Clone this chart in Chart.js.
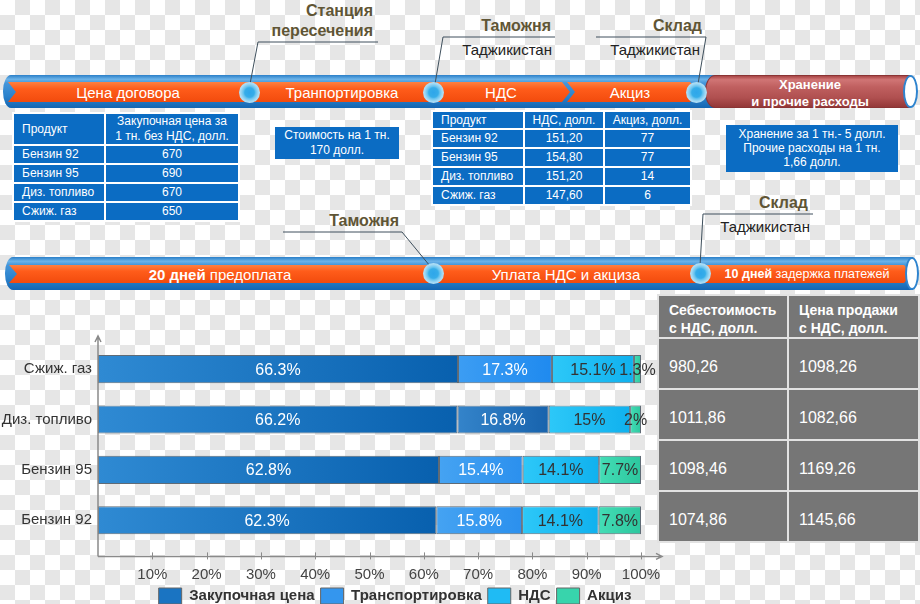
<!DOCTYPE html>
<html><head><meta charset="utf-8">
<script src="https://cdn.jsdelivr.net/npm/chart.js@4.4.1/dist/chart.umd.min.js"></script>
<style>
html,body{margin:0;padding:0;width:920px;height:604px;overflow:hidden;}
body{position:relative;font-family:"Liberation Sans",Arial,sans-serif;background:repeating-conic-gradient(#e6e6e6 0% 25%,#ffffff 0% 50%) 0 0/30px 30px;}
.pipe{position:absolute;height:33px;border-radius:8px 0 0 8px/16px 0 0 16px;background:linear-gradient(to bottom,#2a7fc8 0%,#6cb3e8 13%,#4496da 24%,#2b82cc 65%,#1466b2 100%);}
.band{position:absolute;background:linear-gradient(to bottom,#ff8040 0%,#ff5c1a 35%,#f24b0d 100%);}
.node{position:absolute;width:21px;height:21px;margin:-10.5px 0 0 -10.5px;border-radius:50%;background:radial-gradient(circle,#2ea6ea 0,#36ade9 32%,#66c3ef 42%,#a3d9f4 60%,#b8e2f6 74%,#5aaee0 100%);z-index:3;}
.title{position:absolute;font-weight:bold;font-size:16px;line-height:20px;color:#5f5535;text-align:right;white-space:nowrap;}
.sub{position:absolute;font-size:15px;line-height:18px;color:#222;text-align:right;white-space:nowrap;}
.btext{position:absolute;color:#fff;text-align:center;white-space:nowrap;z-index:2;}
table.t{border-collapse:separate;border-spacing:2px;background:#fff;position:absolute;}
table.t td{background:#0b6cc3;color:#fff;font-size:12px;padding:0;line-height:15px;}
table.g{border-collapse:separate;border-spacing:2px;background:#e2e2e2;position:absolute;z-index:4;}
table.g td{background:#767676;color:#fff;padding:0 0 0 10px;box-sizing:border-box;}
.cap{position:absolute;background:#fff;border:2px solid #2e84cf;border-radius:50%;box-sizing:border-box;}
.box{position:absolute;background:#0b6cc3;color:#fff;font-size:12px;text-align:center;box-sizing:border-box;}
svg{position:absolute;left:0;top:0;}
</style></head>
<body>
<!-- pipe 1 -->
<div class="pipe" style="left:3px;top:75px;width:712px;"></div>
<div id="bands1"></div>
<div style="position:absolute;left:705px;top:75px;width:205px;height:33px;box-sizing:border-box;border:1px solid #8a3434;border-radius:10px 0 0 10px/16px 0 0 16px;background:linear-gradient(to bottom,#a94646 0%,#d07575 12%,#c06060 35%,#b05050 70%,#943838 100%);"></div>
<div class="cap" style="left:903px;top:75px;width:15px;height:33px;"></div>
<div class="btext" style="left:730px;width:160px;top:76px;font-size:13px;font-weight:bold;line-height:17px;">Хранение<br>и прочие расходы</div>

<!-- pipe 2 -->
<div class="pipe" style="left:5px;top:257px;width:908px;"></div>
<div id="bands2"></div>
<div class="cap" style="left:905px;top:257px;width:14px;height:33px;"></div>

<svg width="920" height="604" viewBox="0 0 920 604">
<g fill="none" stroke="#3e4f5c" stroke-width="1">
<polyline points="378,42 258,42 250,84"/>
<polyline points="555,37 443,37 435,84"/>
<polyline points="596,37 706,37 698,84"/>
<polyline points="283,232 402,232 430,266"/>
<polyline points="813,214 703,214 700,266"/>
</g></svg>

<div class="node" style="left:249px;top:92px;"></div>
<div class="node" style="left:433px;top:92px;"></div>
<div class="node" style="left:696px;top:92px;"></div>
<div class="node" style="left:433px;top:273px;"></div>
<div class="node" style="left:700px;top:273px;"></div>

<div class="title" style="right:547px;top:1px;">Станция<br>пересечения</div>
<div class="title" style="right:369px;top:16px;">Таможня</div>
<div class="sub" style="right:368px;top:41px;">Таджикистан</div>
<div class="title" style="right:218px;top:16px;">Склад</div>
<div class="sub" style="right:220px;top:41px;">Таджикистан</div>
<div class="title" style="right:521px;top:211px;">Таможня</div>
<div class="title" style="right:112px;top:193px;">Склад</div>
<div class="sub" style="right:110px;top:218px;">Таджикистан</div>

<div class="box" style="left:275px;top:127px;width:124px;height:32px;line-height:15px;padding-top:1px;">Стоимость на 1 тн.<br>170 долл.</div>
<div class="box" style="left:726px;top:125px;width:172px;height:47px;line-height:14px;padding-top:2px;">Хранение за 1 тн.- 5 долл.<br>Прочие расходы на 1 тн.<br>1,66 долл.</div>

<table class="t" id="t1" style="left:12px;top:112px;"></table>
<table class="t" id="t2" style="left:431px;top:110px;"></table>
<table class="g" id="t3" style="left:657px;top:294px;"></table>

<canvas id="c" width="790" height="289" style="position:absolute;left:0;top:325px;width:790px;height:289px;z-index:1;"></canvas>

<script>
// ---- data ----
const categories = ['Сжиж. газ', 'Диз. топливо', 'Бензин 95', 'Бензин 92'];
const seriesNames = ['Закупочная цена', 'Транспортировка', 'НДС', 'Акциз'];
const purchaseShare = [66.3, 66.2, 62.8, 62.3];
const transportShare = [17.3, 16.8, 15.4, 15.8];
const vatShare = [15.1, 15, 14.1, 14.1];
const exciseShare = [1.3, 2, 7.7, 7.8];
const xTickValues = [10, 20, 30, 40, 50, 60, 70, 80, 90, 100];

const tableProducts = ['Бензин 92', 'Бензин 95', 'Диз. топливо', 'Сжиж. газ'];
const purchasePriceUsd = ['670', '690', '670', '650'];
const vatUsd = ['151,20', '154,80', '151,20', '147,60'];
const exciseUsd = ['77', '77', '14', '6'];
const costWithVat = ['980,26', '1011,86', '1098,46', '1074,86'];
const salePriceWithVat = ['1098,26', '1082,66', '1169,26', '1145,66'];

const pipe1Stages = ['Цена договора', 'Транпортировка', 'НДС', 'Акциз'];
const pipe2Stages = ['<b>20 дней</b> предоплата', 'Уплата НДС и акциза', '<b>10 дней</b> задержка платежей'];

// ---- pipes ----
function band(host, a, b, top, h, d) {
  const w = b - a + d;
  const el = document.createElement('div');
  el.className = 'band';
  el.style.cssText = `left:${a}px;top:${top}px;width:${w}px;height:${h}px;clip-path:polygon(0 0,${w-d}px 0,${w}px ${h/2}px,${w-d}px ${h}px,0 ${h}px,${d}px ${h/2}px);`;
  host.appendChild(el);
}
function btext(html, cx, top, h, size) {
  const el = document.createElement('div');
  el.className = 'btext';
  el.style.cssText = `left:${cx-120}px;width:240px;top:${top}px;line-height:${h}px;font-size:${size}px;`;
  el.innerHTML = html;
  document.body.appendChild(el);
}
const b1 = document.getElementById('bands1');
[[8,249],[251,433],[435,562],[567,690]].forEach(s => band(b1, s[0], s[1], 82, 20, 8));
[128, 342, 501, 630].forEach((cx, i) => btext(pipe1Stages[i], cx, 82, 21, 15));
const b2 = document.getElementById('bands2');
[[9,433],[435,700],[702,904]].forEach(s => band(b2, s[0], s[1], 265, 18, 8));
btext(pipe2Stages[0], 220, 265, 19, 15);
btext(pipe2Stages[1], 566, 265, 19, 15);
btext(pipe2Stages[2], 807, 265, 19, 12.5);

// ---- tables ----
const t1 = document.getElementById('t1');
let h = `<tr style="height:30px"><td style="width:82px;padding-left:8px">Продукт</td><td style="width:132px;text-align:center">Закупочная цена за<br>1 тн. без НДС, долл.</td></tr>`;
tableProducts.forEach((p, i) => { h += `<tr style="height:17px"><td style="padding-left:8px">${p}</td><td style="text-align:center">${purchasePriceUsd[i]}</td></tr>`; });
t1.innerHTML = h;

const t2 = document.getElementById('t2');
h = `<tr style="height:16px"><td style="width:82px;padding-left:8px">Продукт</td><td style="width:78px;text-align:center">НДС, долл.</td><td style="width:85px;text-align:center">Акциз, долл.</td></tr>`;
tableProducts.forEach((p, i) => { h += `<tr style="height:17px"><td style="padding-left:8px">${p}</td><td style="text-align:center">${vatUsd[i]}</td><td style="text-align:center">${exciseUsd[i]}</td></tr>`; });
t2.innerHTML = h;

const t3 = document.getElementById('t3');
h = `<tr style="height:41px"><td style="width:128px;font-weight:bold;font-size:14px;line-height:18px;padding-top:5px">Себестоимость<br>с НДС, долл.</td><td style="width:129px;font-weight:bold;font-size:14px;line-height:18px;padding-top:5px">Цена продажи<br>с НДС, долл.</td></tr>`;
categories.forEach((c, i) => { h += `<tr style="height:49px"><td style="font-size:16px;padding-top:6px">${costWithVat[i]}</td><td style="font-size:16px;padding-top:6px">${salePriceWithVat[i]}</td></tr>`; });
t3.innerHTML = h;

// ---- chart ----
const seriesValues = [purchaseShare, transportShare, vatShare, exciseShare];
const legendColors = ['#1a74c2', '#3496ee', '#1fbbf4', '#38d4ac'];
const gradStops = [
  [['#2f8ad3', '#0860ae'], ['#2f8ad3', '#0860ae'], ['#2f8ad3', '#0860ae'], ['#2f8ad3', '#0860ae']],
  [['#3c9df3', '#1f8aef'], ['#3484ca', '#1863ad'], ['#45a3f2', '#2b90ee'], ['#45a3f2', '#2b90ee']],
  [['#2dc8f8', '#10b1ee'], ['#2dc8f8', '#10b1ee'], ['#2dc8f8', '#10b1ee'], ['#2dc8f8', '#10b1ee']],
  [['#44ddb6', '#2cc79e'], ['#44ddb6', '#2cc79e'], ['#44ddb6', '#2cc79e'], ['#44ddb6', '#2cc79e']]
];
function segFill(ds) {
  return (ctx) => {
    const chart = ctx.chart, i = ctx.dataIndex;
    if (i === undefined || !chart.scales || !chart.scales.x) return legendColors[ds];
    let start = 0;
    for (let k = 0; k < ds; k++) start += seriesValues[k][i];
    const end = start + seriesValues[ds][i];
    const xs = chart.scales.x;
    const x0 = xs.getPixelForValue(start), x1 = xs.getPixelForValue(end);
    if (!isFinite(x0) || !isFinite(x1) || x1 <= x0) return legendColors[ds];
    const g = chart.ctx.createLinearGradient(x0, 0, x1, 0);
    g.addColorStop(0, gradStops[ds][i][0]);
    g.addColorStop(1, gradStops[ds][i][1]);
    return g;
  };
}

const FONT = '"Liberation Sans", Arial, sans-serif';

const axisPlugin = {
  id: 'axisArrows',
  afterDraw(chart) {
    const { ctx, chartArea: a, scales: { x } } = chart;
    const ay = a.bottom + 11;
    const ax = a.left;
    const topY = a.top - 8;
    const rightX = a.right + 21;
    ctx.save();
    ctx.strokeStyle = '#8a8a8a';
    ctx.lineWidth = 1.5;
    ctx.beginPath();
    ctx.moveTo(ax, ay); ctx.lineTo(ax, topY);
    ctx.moveTo(ax - 3, topY + 6); ctx.lineTo(ax, topY); ctx.lineTo(ax + 3, topY + 6);
    ctx.moveTo(ax, ay); ctx.lineTo(rightX, ay);
    ctx.moveTo(rightX - 6, ay - 3); ctx.lineTo(rightX, ay); ctx.lineTo(rightX - 6, ay + 3);
    ctx.stroke();
    ctx.lineWidth = 1;
    ctx.beginPath();
    xTickValues.forEach(v => {
      const px = Math.round(x.getPixelForValue(v)) + 0.5;
      ctx.moveTo(px, ay - 4); ctx.lineTo(px, ay + 3);
    });
    ctx.stroke();
    ctx.restore();
  }
};

const labelPlugin = {
  id: 'segLabels',
  afterDatasetsDraw(chart) {
    const ctx = chart.ctx;
    ctx.save();
    ctx.font = '16px ' + FONT;
    ctx.textAlign = 'center';
    ctx.textBaseline = 'middle';
    chart.data.datasets.forEach((ds, di) => {
      const meta = chart.getDatasetMeta(di);
      meta.data.forEach((el, i) => {
        const cx = (el.x + el.base) / 2;
        ctx.fillStyle = di < 2 ? '#ffffff' : '#333333';
        ctx.fillText(String(ds.data[i]) + '%', cx, el.y + 1);
      });
    });
    ctx.restore();
  }
};

new Chart(document.getElementById('c'), {
  type: 'bar',
  data: {
    labels: categories,
    datasets: seriesValues.map((vals, k) => ({
      label: seriesNames[k],
      data: vals,
      backgroundColor: segFill(k),
      borderColor: '#5f6b76',
      borderWidth: 1,
      borderSkipped: false,
      barPercentage: 0.56,
      categoryPercentage: 1
    }))
  },
  options: {
    indexAxis: 'y',
    responsive: false,
    animation: false,
    events: [],
    layout: { padding: { top: 19, left: 0, right: 0, bottom: 0 } },
    plugins: {
      tooltip: { enabled: false },
      legend: {
        position: 'bottom',
        labels: {
          boxWidth: 23, boxHeight: 16, padding: 6,
          color: '#333',
          font: { family: FONT, size: 15, weight: 'bold' },
          generateLabels: (chart) => chart.data.datasets.map((d, i) => ({
            text: d.label, fillStyle: legendColors[i], strokeStyle: '#666', lineWidth: 1,
            datasetIndex: i, hidden: false, fontColor: '#333'
          }))
        }
      }
    },
    scales: {
      x: {
        stacked: true, min: 0, max: 100,
        grid: { display: false, drawTicks: false },
        border: { display: false },
        ticks: {
          stepSize: 10, padding: 20, color: '#444', maxRotation: 0,
          font: { family: FONT, size: 15 },
          callback: (v) => (xTickValues.includes(v) ? v + '%' : '')
        },
        afterFit(s) { s.height = 36.6; }
      },
      y: {
        stacked: true,
        grid: { display: false, drawTicks: false },
        border: { display: false },
        ticks: { padding: 6, color: '#333', font: { family: FONT, size: 15 } },
        afterFit(s) { s.width = 98; }
      },
      y2: {
        type: 'category', labels: categories, position: 'right',
        grid: { display: false, drawTicks: false },
        border: { display: false },
        ticks: { display: false },
        afterFit(s) { s.width = 149; }
      }
    }
  },
  plugins: [axisPlugin, labelPlugin]
});
</script>
</body></html>
